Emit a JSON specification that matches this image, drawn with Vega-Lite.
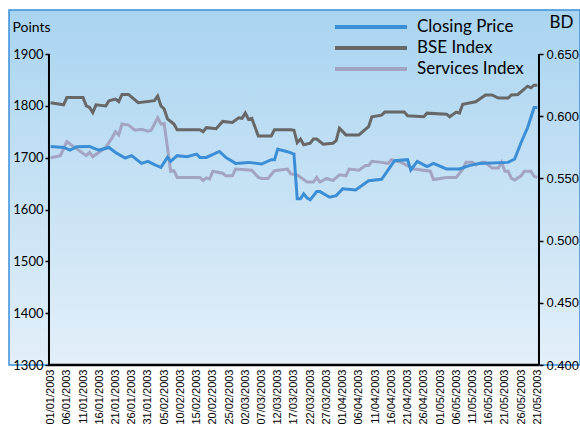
{
"$schema": "https://vega.github.io/schema/vega-lite/v6.json",
"width": 571, "height": 355,
"autosize": {"type": "none"},
"padding": {"left": 9, "top": 10, "right": 0, "bottom": 61},
"background": "white",
"config": {
  "view": {"fill": {"gradient": "linear", "x1": 0, "y1": 0, "x2": 0, "y2": 1, "stops": [{"offset": 0, "color": "#a9d4f0"}, {"offset": 1, "color": "#e3eff9"}]}, "stroke": "#3d8fd9", "strokeWidth": 1.5},
  "axis": {"grid": false},
  "axisX": {"labelOverlap": false, "tickCount": 100}
},
"datasets": {
"idx": [
{"date":"2003-01-01","series":"BSE Index","points":1806},
{"date":"2003-01-05","series":"BSE Index","points":1802},
{"date":"2003-01-06","series":"BSE Index","points":1816},
{"date":"2003-01-11","series":"BSE Index","points":1816},
{"date":"2003-01-12","series":"BSE Index","points":1800},
{"date":"2003-01-13","series":"BSE Index","points":1797},
{"date":"2003-01-14","series":"BSE Index","points":1787},
{"date":"2003-01-15","series":"BSE Index","points":1802},
{"date":"2003-01-18","series":"BSE Index","points":1800},
{"date":"2003-01-19","series":"BSE Index","points":1810},
{"date":"2003-01-21","series":"BSE Index","points":1813},
{"date":"2003-01-22","series":"BSE Index","points":1808},
{"date":"2003-01-23","series":"BSE Index","points":1822},
{"date":"2003-01-25","series":"BSE Index","points":1822},
{"date":"2003-01-28","series":"BSE Index","points":1806},
{"date":"2003-02-02","series":"BSE Index","points":1810},
{"date":"2003-02-03","series":"BSE Index","points":1819},
{"date":"2003-02-04","series":"BSE Index","points":1800},
{"date":"2003-02-05","series":"BSE Index","points":1794},
{"date":"2003-02-06","series":"BSE Index","points":1775},
{"date":"2003-02-08","series":"BSE Index","points":1765},
{"date":"2003-02-09","series":"BSE Index","points":1754},
{"date":"2003-02-16","series":"BSE Index","points":1754},
{"date":"2003-02-17","series":"BSE Index","points":1750},
{"date":"2003-02-18","series":"BSE Index","points":1758},
{"date":"2003-02-21","series":"BSE Index","points":1756},
{"date":"2003-02-23","series":"BSE Index","points":1770},
{"date":"2003-02-26","series":"BSE Index","points":1768},
{"date":"2003-02-28","series":"BSE Index","points":1777},
{"date":"2003-03-01","series":"BSE Index","points":1776},
{"date":"2003-03-02","series":"BSE Index","points":1786},
{"date":"2003-03-03","series":"BSE Index","points":1774},
{"date":"2003-03-04","series":"BSE Index","points":1776},
{"date":"2003-03-06","series":"BSE Index","points":1742},
{"date":"2003-03-10","series":"BSE Index","points":1742},
{"date":"2003-03-11","series":"BSE Index","points":1754},
{"date":"2003-03-16","series":"BSE Index","points":1754},
{"date":"2003-03-17","series":"BSE Index","points":1753},
{"date":"2003-03-18","series":"BSE Index","points":1729},
{"date":"2003-03-19","series":"BSE Index","points":1736},
{"date":"2003-03-20","series":"BSE Index","points":1725},
{"date":"2003-03-22","series":"BSE Index","points":1728},
{"date":"2003-03-23","series":"BSE Index","points":1736},
{"date":"2003-03-24","series":"BSE Index","points":1736},
{"date":"2003-03-26","series":"BSE Index","points":1726},
{"date":"2003-03-29","series":"BSE Index","points":1728},
{"date":"2003-03-30","series":"BSE Index","points":1733},
{"date":"2003-03-31","series":"BSE Index","points":1757},
{"date":"2003-04-02","series":"BSE Index","points":1744},
{"date":"2003-04-06","series":"BSE Index","points":1744},
{"date":"2003-04-09","series":"BSE Index","points":1760},
{"date":"2003-04-10","series":"BSE Index","points":1779},
{"date":"2003-04-13","series":"BSE Index","points":1782},
{"date":"2003-04-14","series":"BSE Index","points":1788},
{"date":"2003-04-20","series":"BSE Index","points":1788},
{"date":"2003-04-21","series":"BSE Index","points":1781},
{"date":"2003-04-26","series":"BSE Index","points":1779},
{"date":"2003-04-27","series":"BSE Index","points":1786},
{"date":"2003-05-03","series":"BSE Index","points":1784},
{"date":"2003-05-04","series":"BSE Index","points":1779},
{"date":"2003-05-06","series":"BSE Index","points":1788},
{"date":"2003-05-07","series":"BSE Index","points":1786},
{"date":"2003-05-08","series":"BSE Index","points":1803},
{"date":"2003-05-12","series":"BSE Index","points":1808},
{"date":"2003-05-15","series":"BSE Index","points":1821},
{"date":"2003-05-17","series":"BSE Index","points":1821},
{"date":"2003-05-19","series":"BSE Index","points":1815},
{"date":"2003-05-22","series":"BSE Index","points":1815},
{"date":"2003-05-23","series":"BSE Index","points":1821},
{"date":"2003-05-25","series":"BSE Index","points":1822},
{"date":"2003-05-28","series":"BSE Index","points":1838},
{"date":"2003-05-29","series":"BSE Index","points":1835},
{"date":"2003-05-30","series":"BSE Index","points":1840},
{"date":"2003-05-31","series":"BSE Index","points":1840},
{"date":"2003-01-01","series":"Services Index","points":1700},
{"date":"2003-01-04","series":"Services Index","points":1704},
{"date":"2003-01-06","series":"Services Index","points":1731},
{"date":"2003-01-09","series":"Services Index","points":1717},
{"date":"2003-01-12","series":"Services Index","points":1704},
{"date":"2003-01-13","series":"Services Index","points":1710},
{"date":"2003-01-14","series":"Services Index","points":1702},
{"date":"2003-01-18","series":"Services Index","points":1720},
{"date":"2003-01-20","series":"Services Index","points":1739},
{"date":"2003-01-21","series":"Services Index","points":1750},
{"date":"2003-01-22","series":"Services Index","points":1744},
{"date":"2003-01-23","series":"Services Index","points":1765},
{"date":"2003-01-25","series":"Services Index","points":1763},
{"date":"2003-01-27","series":"Services Index","points":1753},
{"date":"2003-01-29","series":"Services Index","points":1755},
{"date":"2003-01-31","series":"Services Index","points":1751},
{"date":"2003-02-01","series":"Services Index","points":1753},
{"date":"2003-02-03","series":"Services Index","points":1777},
{"date":"2003-02-04","series":"Services Index","points":1765},
{"date":"2003-02-05","series":"Services Index","points":1766},
{"date":"2003-02-07","series":"Services Index","points":1674},
{"date":"2003-02-08","series":"Services Index","points":1675},
{"date":"2003-02-09","series":"Services Index","points":1662},
{"date":"2003-02-16","series":"Services Index","points":1662},
{"date":"2003-02-17","series":"Services Index","points":1656},
{"date":"2003-02-18","series":"Services Index","points":1661},
{"date":"2003-02-19","series":"Services Index","points":1659},
{"date":"2003-02-20","series":"Services Index","points":1674},
{"date":"2003-02-23","series":"Services Index","points":1670},
{"date":"2003-02-24","series":"Services Index","points":1665},
{"date":"2003-02-26","series":"Services Index","points":1665},
{"date":"2003-02-27","series":"Services Index","points":1678},
{"date":"2003-03-04","series":"Services Index","points":1676},
{"date":"2003-03-06","series":"Services Index","points":1662},
{"date":"2003-03-07","series":"Services Index","points":1660},
{"date":"2003-03-09","series":"Services Index","points":1660},
{"date":"2003-03-11","series":"Services Index","points":1675},
{"date":"2003-03-15","series":"Services Index","points":1678},
{"date":"2003-03-16","series":"Services Index","points":1669},
{"date":"2003-03-18","series":"Services Index","points":1667},
{"date":"2003-03-21","series":"Services Index","points":1653},
{"date":"2003-03-23","series":"Services Index","points":1653},
{"date":"2003-03-24","series":"Services Index","points":1662},
{"date":"2003-03-25","series":"Services Index","points":1653},
{"date":"2003-03-27","series":"Services Index","points":1660},
{"date":"2003-03-29","series":"Services Index","points":1656},
{"date":"2003-03-31","series":"Services Index","points":1667},
{"date":"2003-04-02","series":"Services Index","points":1665},
{"date":"2003-04-03","series":"Services Index","points":1678},
{"date":"2003-04-06","series":"Services Index","points":1676},
{"date":"2003-04-08","series":"Services Index","points":1685},
{"date":"2003-04-09","series":"Services Index","points":1685},
{"date":"2003-04-10","series":"Services Index","points":1693},
{"date":"2003-04-13","series":"Services Index","points":1691},
{"date":"2003-04-15","series":"Services Index","points":1689},
{"date":"2003-04-16","series":"Services Index","points":1696},
{"date":"2003-04-19","series":"Services Index","points":1691},
{"date":"2003-04-23","series":"Services Index","points":1678},
{"date":"2003-04-28","series":"Services Index","points":1674},
{"date":"2003-04-29","series":"Services Index","points":1658},
{"date":"2003-05-03","series":"Services Index","points":1662},
{"date":"2003-05-06","series":"Services Index","points":1662},
{"date":"2003-05-08","series":"Services Index","points":1678},
{"date":"2003-05-09","series":"Services Index","points":1691},
{"date":"2003-05-11","series":"Services Index","points":1691},
{"date":"2003-05-12","series":"Services Index","points":1686},
{"date":"2003-05-14","series":"Services Index","points":1691},
{"date":"2003-05-15","series":"Services Index","points":1691},
{"date":"2003-05-17","series":"Services Index","points":1680},
{"date":"2003-05-19","series":"Services Index","points":1680},
{"date":"2003-05-20","series":"Services Index","points":1691},
{"date":"2003-05-21","series":"Services Index","points":1674},
{"date":"2003-05-22","series":"Services Index","points":1674},
{"date":"2003-05-23","series":"Services Index","points":1660},
{"date":"2003-05-24","series":"Services Index","points":1657},
{"date":"2003-05-26","series":"Services Index","points":1665},
{"date":"2003-05-27","series":"Services Index","points":1674},
{"date":"2003-05-29","series":"Services Index","points":1674},
{"date":"2003-05-30","series":"Services Index","points":1664},
{"date":"2003-05-31","series":"Services Index","points":1662}
],
"price": [
{"date":"2003-01-01","series":"Closing Price","bd":0.5757},
{"date":"2003-01-05","series":"Closing Price","bd":0.5749},
{"date":"2003-01-07","series":"Closing Price","bd":0.5728},
{"date":"2003-01-09","series":"Closing Price","bd":0.5755},
{"date":"2003-01-13","series":"Closing Price","bd":0.5757},
{"date":"2003-01-15","series":"Closing Price","bd":0.5736},
{"date":"2003-01-16","series":"Closing Price","bd":0.5728},
{"date":"2003-01-19","series":"Closing Price","bd":0.5749},
{"date":"2003-01-21","series":"Closing Price","bd":0.5709},
{"date":"2003-01-24","series":"Closing Price","bd":0.5664},
{"date":"2003-01-26","series":"Closing Price","bd":0.5683},
{"date":"2003-01-29","series":"Closing Price","bd":0.5621},
{"date":"2003-01-31","series":"Closing Price","bd":0.5637},
{"date":"2003-02-02","series":"Closing Price","bd":0.5611},
{"date":"2003-02-04","series":"Closing Price","bd":0.5589},
{"date":"2003-02-06","series":"Closing Price","bd":0.5669},
{"date":"2003-02-07","series":"Closing Price","bd":0.5637},
{"date":"2003-02-09","series":"Closing Price","bd":0.5683},
{"date":"2003-02-12","series":"Closing Price","bd":0.5675},
{"date":"2003-02-15","series":"Closing Price","bd":0.5696},
{"date":"2003-02-16","series":"Closing Price","bd":0.5669},
{"date":"2003-02-18","series":"Closing Price","bd":0.5669},
{"date":"2003-02-22","series":"Closing Price","bd":0.5717},
{"date":"2003-02-24","series":"Closing Price","bd":0.5669},
{"date":"2003-02-27","series":"Closing Price","bd":0.5621},
{"date":"2003-03-03","series":"Closing Price","bd":0.5629},
{"date":"2003-03-07","series":"Closing Price","bd":0.5616},
{"date":"2003-03-10","series":"Closing Price","bd":0.5651},
{"date":"2003-03-11","series":"Closing Price","bd":0.5651},
{"date":"2003-03-12","series":"Closing Price","bd":0.5736},
{"date":"2003-03-13","series":"Closing Price","bd":0.5728},
{"date":"2003-03-15","series":"Closing Price","bd":0.5715},
{"date":"2003-03-17","series":"Closing Price","bd":0.5696},
{"date":"2003-03-18","series":"Closing Price","bd":0.5336},
{"date":"2003-03-19","series":"Closing Price","bd":0.5336},
{"date":"2003-03-20","series":"Closing Price","bd":0.5376},
{"date":"2003-03-21","series":"Closing Price","bd":0.5344},
{"date":"2003-03-22","series":"Closing Price","bd":0.5328},
{"date":"2003-03-24","series":"Closing Price","bd":0.5394},
{"date":"2003-03-25","series":"Closing Price","bd":0.5394},
{"date":"2003-03-28","series":"Closing Price","bd":0.5349},
{"date":"2003-03-30","series":"Closing Price","bd":0.5362},
{"date":"2003-04-01","series":"Closing Price","bd":0.5416},
{"date":"2003-04-05","series":"Closing Price","bd":0.5408},
{"date":"2003-04-09","series":"Closing Price","bd":0.5482},
{"date":"2003-04-13","series":"Closing Price","bd":0.5493},
{"date":"2003-04-17","series":"Closing Price","bd":0.5643},
{"date":"2003-04-21","series":"Closing Price","bd":0.5651},
{"date":"2003-04-22","series":"Closing Price","bd":0.5568},
{"date":"2003-04-24","series":"Closing Price","bd":0.5637},
{"date":"2003-04-27","series":"Closing Price","bd":0.5595},
{"date":"2003-04-29","series":"Closing Price","bd":0.5621},
{"date":"2003-05-03","series":"Closing Price","bd":0.5576},
{"date":"2003-05-07","series":"Closing Price","bd":0.5576},
{"date":"2003-05-10","series":"Closing Price","bd":0.5603},
{"date":"2003-05-13","series":"Closing Price","bd":0.5621},
{"date":"2003-05-22","series":"Closing Price","bd":0.5629},
{"date":"2003-05-24","series":"Closing Price","bd":0.5656},
{"date":"2003-05-26","series":"Closing Price","bd":0.5789},
{"date":"2003-05-28","series":"Closing Price","bd":0.5909},
{"date":"2003-05-30","series":"Closing Price","bd":0.6070},
{"date":"2003-05-31","series":"Closing Price","bd":0.6070}
]
},
"layer": [
  {
    "layer": [
      {
        "data": {"name": "idx"},
        "mark": {"type": "line", "strokeWidth": 3},
        "encoding": {
          "x": {"field": "date", "type": "temporal",
            "scale": {"type": "utc", "domain": [{"year":2002,"month":12,"date":19,"hours":4,"minutes":19,"utc":true},{"year":2003,"month":6,"date":13,"hours":3,"minutes":22,"utc":true}]},
            "axis": {"title": null, "domain": false, "ticks": false, "tickCount": 100, "labelAngle": 270, "labelFont": "Liberation Sans", "labelFontSize": 11, "labelColor": "#000000", "labelPadding": 4, "labelOverlap": false, "labelFlush": false, "labelBound": false,
              "values": [
                {"year":2003,"month":1,"date":1,"utc":true},{"year":2003,"month":1,"date":6,"utc":true},{"year":2003,"month":1,"date":11,"utc":true},{"year":2003,"month":1,"date":16,"utc":true},{"year":2003,"month":1,"date":21,"utc":true},{"year":2003,"month":1,"date":26,"utc":true},{"year":2003,"month":1,"date":31,"utc":true},
                {"year":2003,"month":2,"date":5,"utc":true},{"year":2003,"month":2,"date":10,"utc":true},{"year":2003,"month":2,"date":15,"utc":true},{"year":2003,"month":2,"date":20,"utc":true},{"year":2003,"month":2,"date":25,"utc":true},
                {"year":2003,"month":3,"date":2,"utc":true},{"year":2003,"month":3,"date":7,"utc":true},{"year":2003,"month":3,"date":12,"utc":true},{"year":2003,"month":3,"date":17,"utc":true},{"year":2003,"month":3,"date":22,"utc":true},{"year":2003,"month":3,"date":27,"utc":true},
                {"year":2003,"month":4,"date":1,"utc":true},{"year":2003,"month":4,"date":6,"utc":true},{"year":2003,"month":4,"date":11,"utc":true},{"year":2003,"month":4,"date":16,"utc":true},{"year":2003,"month":4,"date":21,"utc":true},{"year":2003,"month":4,"date":26,"utc":true},
                {"year":2003,"month":5,"date":1,"utc":true},{"year":2003,"month":5,"date":6,"utc":true},{"year":2003,"month":5,"date":11,"utc":true},{"year":2003,"month":5,"date":16,"utc":true},{"year":2003,"month":5,"date":21,"utc":true},{"year":2003,"month":5,"date":26,"utc":true},{"year":2003,"month":5,"date":31,"utc":true}
              ],
              "labelExpr": "datum.index == 1 ? '21/05/2003' : utcFormat(datum.value, '%d/%m/%Y')"}},
          "y": {"field": "points", "type": "quantitative",
            "scale": {"domain": [1300, 1985], "nice": false, "zero": false},
            "axis": {"orient": "left", "offset": -40, "domain": false, "values": [1300,1400,1500,1600,1700,1800,1900], "format": "d", "tickSize": 4, "tickColor": "#000000", "tickWidth": 1.5, "labelFont": "Lato", "labelFontSize": 13, "labelColor": "#000000", "labelPadding": 2,
              "title": "Points", "titleAngle": 0, "titleX": -37, "titleY": 21, "titleAlign": "left", "titleBaseline": "alphabetic", "titleFont": "Lato", "titleFontSize": 14, "titleFontWeight": "normal", "titleColor": "#000000"}},
          "color": {"field": "series", "type": "nominal",
            "scale": {"domain": ["Closing Price", "BSE Index", "Services Index"], "range": ["#3b8ed6", "#676767", "#a3a3c2"]},
            "legend": {"orient": "none", "legendX": 352, "legendY": 7, "title": null, "symbolType": "M-4.5,0H4.5", "symbolSize": 256, "symbolStrokeWidth": 4, "labelFont": "Lato", "labelFontSize": 17, "labelColor": "#000000", "labelOffset": 36, "rowPadding": 3, "padding": 0}}
        }
      },
      {
        "data": {"values": [{}]},
        "mark": {"type": "rule", "color": "#000000", "strokeWidth": 2},
        "encoding": {
          "x": {"datum": {"year":2002,"month":12,"date":31,"hours":12,"utc":true}, "type": "temporal"},
          "y": {"datum": 1300, "type": "quantitative"},
          "y2": {"datum": 1900}
        }
      },
      {
        "data": {"values": [{}]},
        "mark": {"type": "rule", "color": "#000000", "strokeWidth": 2},
        "encoding": {
          "x": {"datum": {"year":2003,"month":5,"date":31,"hours":12,"utc":true}, "type": "temporal"},
          "y": {"datum": 1300, "type": "quantitative"},
          "y2": {"datum": 1900}
        }
      },
      {
        "data": {"values": [{}]},
        "mark": {"type": "rule", "color": "#000000", "strokeWidth": 2.5},
        "encoding": {
          "x": {"datum": {"year":2002,"month":12,"date":31,"hours":12,"utc":true}, "type": "temporal"},
          "x2": {"datum": {"year":2003,"month":5,"date":31,"hours":12,"utc":true}},
          "y": {"datum": 1300, "type": "quantitative"}
        }
      }
    ]
  },
  {
    "data": {"name": "price"},
    "mark": {"type": "line", "strokeWidth": 3},
    "encoding": {
      "x": {"field": "date", "type": "temporal", "axis": {"tickCount": 100, "labelOverlap": false}},
      "y": {"field": "bd", "type": "quantitative",
        "scale": {"domain": [0.4, 0.685417], "nice": false, "zero": false},
        "axis": {"orient": "right", "offset": -41, "domain": false, "values": [0.4,0.45,0.5,0.55,0.6,0.65], "format": ".3f", "tickSize": 4, "tickColor": "#000000", "tickWidth": 1.5, "labelFont": "Liberation Sans", "labelFontSize": 13, "labelColor": "#000000", "labelPadding": 3,
          "title": "BD", "titleAngle": 0, "titleX": 10, "titleY": 17, "titleAlign": "left", "titleBaseline": "alphabetic", "titleFont": "Lato", "titleFontSize": 17, "titleFontWeight": "normal", "titleColor": "#000000"}},
      "color": {"field": "series", "type": "nominal"}
    }
  }
],
"resolve": {"scale": {"y": "independent"}}
}
